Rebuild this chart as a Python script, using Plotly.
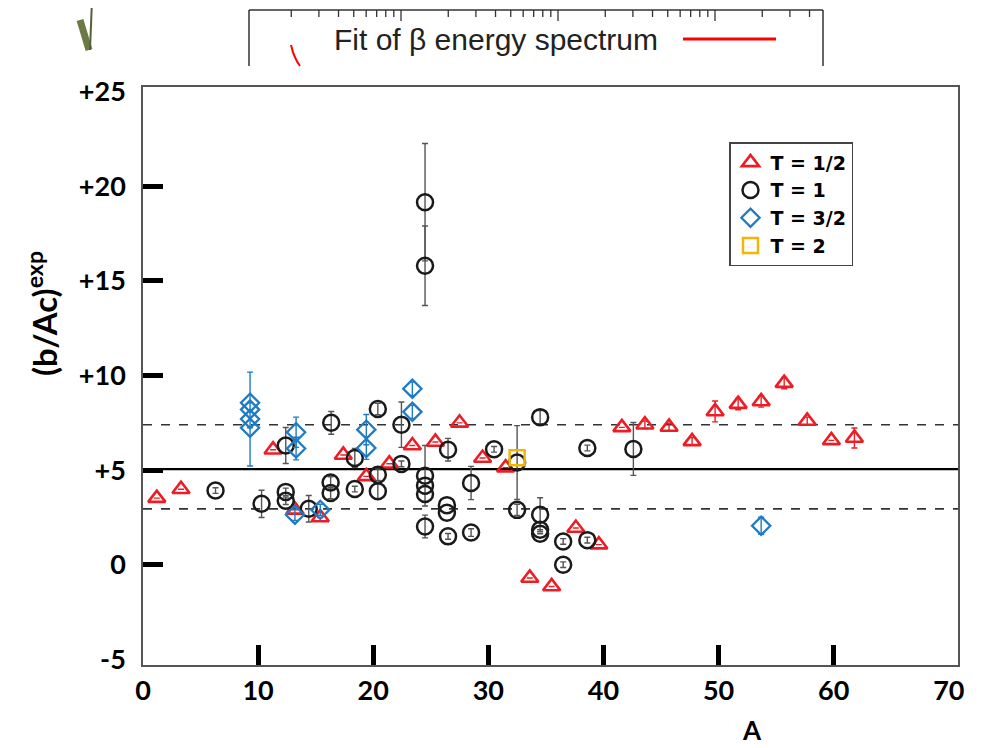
import math
import plotly.graph_objects as go

# ---------------- data ----------------
# T = 1/2 (red triangles)
t12_A = [1.2, 3.3, 11.3, 13.2, 15.4, 17.4, 19.4, 21.4, 23.4, 25.4, 27.5, 29.5, 31.5,
         33.6, 35.5, 37.6, 39.6, 41.6, 43.6, 45.7, 47.7, 49.7, 51.7, 53.7, 55.7, 57.7,
         59.8, 61.8]
t12_y = [3.52, 3.99, 6.08, 2.9, 2.5, 5.8, 4.67, 5.34, 6.3, 6.49, 7.5, 5.64, 5.13,
         -0.7, -1.15, 1.94, 1.06, 7.26, 7.4, 7.28, 6.52, 8.1, 8.49, 8.63, 9.6, 7.6,
         6.57, 6.7]
t12_err = [None, None, None, None, None, None, None, None, None, None, None, None, None,
           None, None, None, None, None, 0.2, 0.2, 0.2, 0.55, 0.3, 0.3, 0.3, 0.2,
           None, 0.53]

# T = 1 (black circles)
t1_A = [6.3, 10.3, 12.4, 12.4, 12.4, 14.4, 16.35, 16.3, 16.3, 18.4, 18.4, 20.4, 20.4,
        20.4, 22.45, 22.45, 24.5, 24.5, 24.5, 24.5, 24.5, 24.5, 26.5, 26.4, 26.4, 26.5,
        28.5, 28.5, 30.5, 32.5, 32.5, 34.5, 34.5, 34.5, 34.5, 36.5, 36.5, 38.6, 38.6,
        42.6]
t1_y = [3.92, 3.22, 6.3, 3.85, 3.38, 2.96, 7.5, 4.35, 3.79, 5.64, 4.0, 8.23, 4.76,
        3.88, 7.4, 5.33, 19.16, 15.8, 4.7, 4.18, 3.74, 2.02, 6.08, 3.15, 2.75, 1.5,
        4.32, 1.7, 6.1, 5.4, 2.9, 7.8, 2.64, 1.85, 1.64, 1.23, 0.0, 1.3, 6.17,
        6.12]
t1_err = [0.15, 0.72, 0.95, 0.2, 0.2, 0.7, 0.6, 0.3, 0.3, 0.5, 0.15, 0.3, 0.3,
          0.4, 1.2, 0.15, 3.1, 2.1, 1.6, None, None, 0.6, 0.6, None, None, 0.15,
          0.88, 0.2, 0.15, 1.95, 0.3, 0.35, 0.9, None, None, 0.15, 0.15, 0.15, 0.15,
          1.4]

# T = 3/2 (blue diamonds)
t32_A = [9.3, 9.3, 9.3, 9.3, 13.3, 13.3, 13.2, 15.4, 19.4, 19.4, 23.4, 23.4, 53.7]
t32_y = [8.56, 8.2, 7.7, 7.24, 7.0, 6.14, 2.64, 2.9, 7.14, 6.17, 9.3, 8.08, 2.06]
t32_err = [None, None, 2.48, None, 0.8, 0.6, 0.3, 0.3, 0.8, 0.6, 0.35, 0.35, 0.45]

# T = 2 (yellow square)
t2_A = [32.5]
t2_y = [5.66]

# reference lines
mean_value = 5.05
band_upper = 7.4
band_lower = 2.95

x_tick_vals = [0, 10, 20, 30, 40, 50, 60, 70]
x_tick_text = ["0", "10", "20", "30", "40", "50", "60", "70"]
y_tick_vals = [-5, 0, 5, 10, 15, 20, 25]
y_tick_text = ["-5", "0", "+5", "+10", "+15", "+20", "+25"]

# ---------------- layout geometry (page pixels) ----------------
PAGE_W, PAGE_H = 991, 748
OFF = 8                      # default body margin of the html page
L, R, T, B = 143, 958, 87, 665


def px(x):
    return (x - L) / (R - L)


def py(y):
    return (B - y) / (B - T)


FONT = "Lato"

fig = go.Figure()


def add_series(A, y, err, name, symbol, color, size, errcolor, lw=2):
    fig.add_trace(go.Scatter(
        x=A, y=y, mode="markers", name=name,
        marker=dict(symbol=symbol, size=size, color=color,
                    line=dict(color=color, width=lw)),
        error_y=dict(type="data", array=err, visible=True, color=errcolor,
                     thickness=1.4, width=3) if err is not None else None,
    ))


add_series(t12_A, t12_y, t12_err, "T = 1/2", "triangle-up-open", "#ee1c24", 15, "#ee1c24", 2.6)
add_series(t1_A, t1_y, t1_err, "T = 1", "circle-open", "#1a1a1a", 16, "#555555", 2.5)
add_series(t32_A, t32_y, t32_err, "T = 3/2", "diamond-open", "#1f7bc4", 14, "#1f7bc4", 2.3)
add_series(t2_A, t2_y, None, "T = 2", "square-open", "#f2b705", 15, "#f2b705", 2.5)

# reference lines
fig.add_shape(type="line", xref="paper", x0=0, x1=1, yref="y", y0=mean_value, y1=mean_value,
              line=dict(color="black", width=2.2), layer="below")
for v in (band_upper, band_lower):
    fig.add_shape(type="line", xref="paper", x0=0, x1=1, yref="y", y0=v, y1=v,
                  line=dict(color="#333333", width=1.6, dash="dash"), layer="below")

# ---------------- decoration: overlapping fragment at the top ----------------
box_l, box_r, box_t, box_b = 249, 823, 10, 66
for (x0, y0, x1, y1) in [(box_l, box_b, box_l, box_t), (box_l, box_t, box_r, box_t),
                         (box_r, box_t, box_r, box_b)]:
    fig.add_shape(type="line", xref="paper", yref="paper",
                  x0=px(x0), y0=py(y0), x1=px(x1), y1=py(y1),
                  line=dict(color="#333333", width=1.5))
dec = 157.0
start = 244.0
for d in range(4):
    for k in range(1, 10):
        xx = start + dec * d + dec * math.log10(k)
        if xx <= box_l + 2 or xx >= box_r - 2:
            continue
        ln = 11 if k == 1 else 7
        fig.add_shape(type="line", xref="paper", yref="paper",
                      x0=px(xx), x1=px(xx), y0=py(box_t), y1=py(box_t + ln),
                      line=dict(color="#333333", width=1.3))
fig.add_annotation(xref="paper", yref="paper", x=px(496), y=py(39), text="Fit of β energy spectrum",
                   showarrow=False, font=dict(family="Liberation Sans Narrow, Liberation Sans", size=30,
                                              color="#222222"),
                   xanchor="center", yanchor="middle")
fig.add_shape(type="line", xref="paper", yref="paper", x0=px(683), x1=px(776), y0=py(39), y1=py(39),
              line=dict(color="#ff0000", width=3))
fig.add_shape(type="path", xref="paper", yref="paper",
              path=f"M {px(291)},{py(45)} Q {px(294)},{py(58)} {px(300)},{py(66)}",
              line=dict(color="#ff0000", width=2))
fig.add_shape(type="line", xref="paper", yref="paper", x0=px(80), y0=py(20), x1=px(89), y1=py(50),
              line=dict(color="#6b7a45", width=7))
fig.add_shape(type="line", xref="paper", yref="paper", x0=px(90), y0=py(50), x1=px(92), y1=py(0),
              line=dict(color="#55603a", width=2))

# ---------------- axis titles ----------------
fig.add_annotation(xref="paper", yref="paper", x=px(42), y=py(314),
                   text="(b/Ac)<sup>exp</sup>", textangle=-90, showarrow=False,
                   font=dict(family=FONT, size=33, color="black", weight="bold"),
                   xanchor="center", yanchor="middle")
fig.add_annotation(xref="paper", yref="paper", x=px(752), y=py(730), text="A", showarrow=False,
                   font=dict(family=FONT, size=26, color="black", weight="bold"),
                   xanchor="center", yanchor="middle")

tickfont = dict(family=FONT, size=27, color="black", weight="bold")
fig.update_layout(
    width=PAGE_W - OFF, height=PAGE_H - OFF, autosize=False,
    margin=dict(l=L - OFF, r=PAGE_W - R, t=T - OFF, b=PAGE_H - B, pad=0),
    paper_bgcolor="white", plot_bgcolor="white",
    showlegend=True,
    legend=dict(x=px(729), y=py(142), xanchor="left", yanchor="top",
                bgcolor="white", bordercolor="#444444", borderwidth=1.5,
                font=dict(family="DejaVu Sans", size=19, color="black", weight="bold"),
                itemsizing="trace", tracegroupgap=0),
    xaxis=dict(range=[0, 70.8], tickmode="array", tickvals=x_tick_vals, ticktext=x_tick_text,
               ticks="", showgrid=False, zeroline=False, showline=True, linecolor="#555555",
               linewidth=1.5, mirror=True, tickfont=tickfont, ticklabelstandoff=1,
               minor=dict(tickmode="array", tickvals=x_tick_vals[1:-1], ticks="inside",
                          ticklen=20, tickwidth=5, tickcolor="black", showgrid=False)),
    yaxis=dict(range=[-5.3, 25.25], tickmode="array", tickvals=y_tick_vals, ticktext=y_tick_text,
               ticks="", showgrid=False, zeroline=False, showline=True, linecolor="#555555",
               linewidth=1.5, mirror=True, tickfont=tickfont, ticklabelstandoff=10,
               minor=dict(tickmode="array", tickvals=y_tick_vals[1:-1], ticks="inside",
                          ticklen=20, tickwidth=5, tickcolor="black", showgrid=False)),
)

fig.write_html("out.html")
